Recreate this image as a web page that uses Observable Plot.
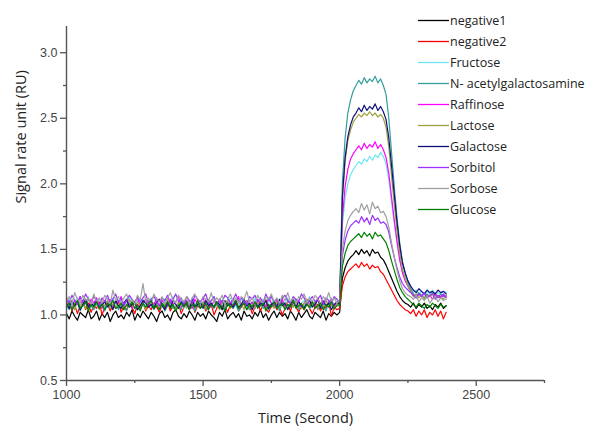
<!DOCTYPE html>
<html>
<head>
<meta charset="utf-8">
<script src="https://cdn.jsdelivr.net/npm/d3@7"></script>
<script src="https://cdn.jsdelivr.net/npm/@observablehq/plot@0.6"></script>
<style>
  html, body { margin: 0; padding: 0; background: #fff; }
  #wrap { position: relative; width: 593px; height: 432px; }
  #legend { position: absolute; left: 418px; top: 10px; font-family: "Open Sans", sans-serif; font-size: 12.5px; color: #222; }
  .row { height: 21px; display: flex; align-items: center; }
  .sw { display: block; width: 31px; height: 21px; margin-right: 1px; }
</style>
</head>
<body>
<div id="wrap"><div id="legend"></div></div>
<script>
// ---- Data ----
const seriesNames = ["negative1","negative2","Fructose","N- acetylgalactosamine","Raffinose","Lactose","Galactose","Sorbitol","Sorbose","Glucose"];
const seriesColors = ["#000000","#ff0000","#6fe3f2","#339e9a","#ff00ff","#a0a040","#10107a","#9b30ff","#a0a0a0","#008000"];

const times = [1000,1010,1020,1030,1040,1050,1060,1070,1080,1090,1100,1110,1120,1130,1140,1150,1160,1170,1180,1190,
1200,1210,1220,1230,1240,1250,1260,1270,1280,1290,1300,1310,1320,1330,1340,1350,1360,1370,1380,1390,
1400,1410,1420,1430,1440,1450,1460,1470,1480,1490,1500,1510,1520,1530,1540,1550,1560,1570,1580,1590,
1600,1610,1620,1630,1640,1650,1660,1670,1680,1690,1700,1710,1720,1730,1740,1750,1760,1770,1780,1790,
1800,1810,1820,1830,1840,1850,1860,1870,1880,1890,1900,1910,1920,1930,1940,1950,1960,1970,1980,1990,
2000,2010,2020,2030,2040,2050,2060,2070,2080,2090,2100,2110,2120,2130,2140,2150,2160,2170,2180,2190,
2200,2210,2220,2230,2240,2250,2260,2270,2280,2290,2300,2310,2320,2330,2340,2350,2360,2370,2380,2390];

const negative1 = [1.01,0.97,1.03,0.99,0.96,1.02,1.00,0.98,1.04,0.97,0.99,1.03,0.96,1.01,0.98,1.02,0.95,1.00,1.03,0.98,
1.00,0.97,1.02,0.99,1.04,0.96,1.01,0.98,1.03,1.00,0.97,1.02,0.99,0.95,1.01,1.03,0.98,1.00,0.96,1.02,
1.04,0.99,0.97,1.01,0.98,1.03,1.00,0.96,1.02,0.99,1.01,0.97,1.03,1.00,0.98,0.95,1.02,0.99,1.04,0.97,
1.00,1.02,0.98,1.01,0.96,1.03,0.99,1.00,0.97,1.02,0.99,1.04,0.98,1.01,0.96,1.00,1.03,0.98,1.02,0.99,
1.01,0.97,1.03,1.00,0.96,1.02,0.98,1.01,1.04,0.99,0.97,1.02,1.00,0.98,1.03,0.96,1.01,0.99,1.02,1.00,
1.02,1.28,1.36,1.41,1.44,1.46,1.49,1.46,1.50,1.47,1.49,1.45,1.50,1.47,1.48,1.44,1.42,1.38,1.33,1.28,
1.23,1.18,1.14,1.11,1.09,1.08,1.06,1.09,1.05,1.08,1.06,1.09,1.05,1.07,1.04,1.08,1.06,1.09,1.05,1.07];

const negative2 = [1.06,1.10,1.03,1.08,1.01,1.07,1.11,1.04,1.09,1.02,1.07,1.05,1.10,1.00,1.06,1.09,1.03,1.08,1.05,1.11,
1.02,1.07,1.04,1.09,1.06,1.01,1.08,1.05,1.10,1.03,1.07,1.04,1.09,1.06,1.02,1.08,1.05,1.11,1.03,1.07,
1.05,1.09,1.01,1.06,1.08,1.04,1.10,1.02,1.07,1.05,1.09,1.03,1.06,1.08,1.00,1.05,1.10,1.04,1.07,1.02,
1.08,1.05,1.11,1.03,1.06,1.09,1.04,1.07,1.01,1.06,1.10,1.03,1.08,1.05,1.02,1.07,1.09,1.04,1.06,1.00,
1.05,1.08,1.03,1.10,1.06,1.02,1.07,1.04,1.09,1.05,1.01,1.06,1.08,1.03,1.07,1.05,1.10,0.99,1.06,1.04,
1.05,1.22,1.29,1.33,1.35,1.37,1.39,1.36,1.40,1.37,1.39,1.35,1.38,1.36,1.37,1.33,1.31,1.27,1.23,1.19,
1.15,1.11,1.08,1.06,1.04,1.03,1.01,1.04,0.99,1.03,1.00,1.04,0.98,1.02,1.00,1.04,0.99,1.03,0.97,1.02];

const fructose = [1.09,1.12,1.06,1.10,1.13,1.07,1.11,1.08,1.14,1.06,1.10,1.07,1.12,1.09,1.05,1.11,1.08,1.13,1.06,1.10,
1.12,1.07,1.09,1.14,1.08,1.05,1.11,1.09,1.12,1.06,1.10,1.13,1.07,1.09,1.11,1.06,1.12,1.08,1.10,1.14,
1.07,1.09,1.12,1.05,1.10,1.08,1.13,1.07,1.11,1.09,1.06,1.12,1.08,1.10,1.14,1.07,1.09,1.11,1.06,1.10,
1.13,1.08,1.10,1.07,1.12,1.09,1.05,1.11,1.08,1.13,1.06,1.10,1.12,1.07,1.09,1.14,1.08,1.10,1.06,1.11,
1.09,1.13,1.07,1.10,1.12,1.06,1.09,1.11,1.08,1.14,1.07,1.10,1.12,1.08,1.06,1.11,1.09,1.13,1.07,1.10,
1.10,1.68,1.89,2.00,2.07,2.11,2.14,2.17,2.15,2.19,2.17,2.21,2.18,2.22,2.20,2.24,2.21,2.15,2.03,1.86,
1.70,1.55,1.42,1.33,1.28,1.23,1.20,1.17,1.19,1.16,1.18,1.15,1.18,1.16,1.19,1.15,1.17,1.16,1.18,1.17];

const nAcetylgalactosamine = [1.07,1.04,1.10,1.06,1.09,1.03,1.08,1.11,1.05,1.07,1.04,1.09,1.06,1.10,1.03,1.08,1.05,1.07,1.11,1.04,
1.08,1.06,1.03,1.09,1.07,1.10,1.04,1.06,1.08,1.05,1.11,1.07,1.04,1.08,1.06,1.09,1.03,1.07,1.10,1.05,
1.06,1.08,1.04,1.11,1.07,1.05,1.09,1.03,1.08,1.06,1.10,1.04,1.07,1.09,1.05,1.08,1.06,1.11,1.04,1.07,
1.09,1.05,1.08,1.03,1.06,1.10,1.07,1.04,1.09,1.06,1.08,1.11,1.05,1.07,1.04,1.09,1.06,1.08,1.03,1.10,
1.07,1.05,1.09,1.06,1.11,1.04,1.08,1.06,1.10,1.05,1.07,1.09,1.04,1.08,1.06,1.03,1.10,1.07,1.05,1.08,
1.08,2.01,2.35,2.54,2.64,2.71,2.75,2.79,2.76,2.81,2.77,2.80,2.78,2.82,2.77,2.80,2.75,2.68,2.50,2.24,
1.98,1.74,1.55,1.40,1.32,1.25,1.20,1.16,1.14,1.17,1.15,1.13,1.16,1.14,1.17,1.15,1.13,1.16,1.14,1.15];

const raffinose = [1.12,1.08,1.05,1.11,1.09,1.14,1.07,1.10,1.06,1.12,1.09,1.13,1.07,1.05,1.11,1.08,1.12,1.06,1.10,1.09,
1.14,1.07,1.11,1.08,1.05,1.10,1.13,1.07,1.09,1.12,1.06,1.10,1.08,1.13,1.05,1.11,1.09,1.07,1.12,1.08,
1.10,1.14,1.06,1.09,1.11,1.07,1.05,1.12,1.08,1.10,1.13,1.07,1.09,1.06,1.11,1.08,1.12,1.05,1.10,1.09,
1.07,1.12,1.08,1.14,1.06,1.09,1.11,1.07,1.10,1.05,1.12,1.08,1.10,1.06,1.13,1.09,1.07,1.11,1.08,1.12,
1.06,1.10,1.09,1.13,1.07,1.11,1.05,1.09,1.12,1.08,1.10,1.06,1.13,1.08,1.11,1.07,1.09,1.12,1.06,1.10,
1.09,1.74,1.98,2.11,2.19,2.23,2.26,2.29,2.26,2.31,2.27,2.30,2.28,2.32,2.27,2.30,2.26,2.20,2.08,1.90,
1.72,1.56,1.42,1.32,1.26,1.22,1.18,1.15,1.13,1.16,1.14,1.17,1.13,1.15,1.12,1.16,1.14,1.13,1.15,1.14];

const lactose = [1.06,1.10,1.08,1.04,1.11,1.07,1.09,1.05,1.12,1.08,1.06,1.10,1.04,1.09,1.07,1.11,1.05,1.08,1.10,1.06,
1.09,1.04,1.07,1.12,1.08,1.05,1.10,1.07,1.09,1.04,1.11,1.08,1.06,1.10,1.05,1.09,1.07,1.12,1.06,1.08,
1.04,1.10,1.07,1.09,1.05,1.11,1.08,1.06,1.10,1.07,1.09,1.05,1.12,1.08,1.06,1.10,1.04,1.09,1.07,1.11,
1.05,1.08,1.10,1.06,1.09,1.04,1.11,1.07,1.08,1.05,1.10,1.07,1.09,1.12,1.06,1.08,1.05,1.10,1.07,1.09,
1.04,1.11,1.08,1.06,1.10,1.07,1.05,1.09,1.12,1.06,1.08,1.10,1.05,1.09,1.07,1.11,1.06,1.08,1.04,1.09,
1.08,1.88,2.17,2.33,2.41,2.47,2.50,2.53,2.51,2.54,2.52,2.55,2.52,2.54,2.51,2.53,2.50,2.43,2.28,2.06,
1.84,1.64,1.47,1.35,1.28,1.22,1.18,1.14,1.16,1.13,1.15,1.12,1.15,1.14,1.16,1.13,1.15,1.14,1.12,1.15];

const galactose = [1.09,1.05,1.11,1.07,1.10,1.04,1.08,1.12,1.06,1.09,1.07,1.11,1.05,1.08,1.10,1.06,1.09,1.04,1.11,1.07,
1.05,1.09,1.12,1.06,1.08,1.10,1.04,1.07,1.11,1.09,1.06,1.08,1.05,1.10,1.12,1.07,1.04,1.09,1.06,1.11,
1.08,1.05,1.10,1.07,1.09,1.04,1.12,1.06,1.08,1.10,1.05,1.11,1.07,1.09,1.06,1.10,1.08,1.04,1.11,1.07,
1.09,1.06,1.10,1.05,1.08,1.12,1.07,1.09,1.04,1.10,1.06,1.09,1.07,1.11,1.05,1.08,1.10,1.06,1.12,1.07,
1.09,1.04,1.08,1.11,1.06,1.10,1.07,1.05,1.09,1.11,1.06,1.08,1.12,1.05,1.10,1.07,1.09,1.04,1.08,1.10,
1.08,1.90,2.20,2.36,2.45,2.51,2.54,2.58,2.55,2.60,2.56,2.59,2.57,2.61,2.56,2.59,2.55,2.49,2.35,2.14,
1.92,1.71,1.53,1.40,1.32,1.26,1.22,1.19,1.17,1.20,1.18,1.16,1.19,1.17,1.18,1.16,1.19,1.17,1.18,1.16];

const sorbitol = [1.13,1.09,1.15,1.11,1.08,1.14,1.10,1.16,1.12,1.09,1.14,1.11,1.07,1.13,1.10,1.15,1.09,1.12,1.16,1.10,
1.13,1.08,1.11,1.15,1.12,1.09,1.14,1.10,1.13,1.16,1.09,1.12,1.14,1.10,1.07,1.13,1.11,1.15,1.09,1.12,
1.16,1.10,1.13,1.08,1.14,1.11,1.09,1.15,1.12,1.10,1.13,1.16,1.09,1.11,1.14,1.08,1.12,1.10,1.15,1.13,
1.09,1.12,1.16,1.10,1.13,1.11,1.08,1.14,1.12,1.15,1.10,1.13,1.09,1.16,1.11,1.14,1.10,1.12,1.08,1.13,
1.15,1.11,1.09,1.14,1.12,1.10,1.16,1.13,1.09,1.11,1.14,1.10,1.12,1.15,1.08,1.13,1.11,1.09,1.14,1.12,
1.10,1.45,1.57,1.64,1.68,1.70,1.72,1.70,1.75,1.71,1.74,1.69,1.76,1.72,1.74,1.70,1.71,1.69,1.63,1.53,
1.44,1.36,1.29,1.24,1.21,1.19,1.17,1.15,1.13,1.16,1.14,1.17,1.13,1.15,1.16,1.12,1.15,1.14,1.16,1.13];

const sorbose = [1.10,1.14,1.08,1.17,1.12,1.09,1.15,1.11,1.13,1.08,1.16,1.10,1.13,1.09,1.15,1.12,1.08,1.19,1.11,1.14,
1.09,1.13,1.16,1.10,1.12,1.08,1.15,1.11,1.24,1.10,1.13,1.09,1.16,1.12,1.10,1.14,1.08,1.13,1.17,1.11,
1.09,1.15,1.12,1.10,1.14,1.08,1.13,1.16,1.11,1.09,1.14,1.12,1.10,1.17,1.09,1.13,1.11,1.15,1.08,1.12,
1.16,1.10,1.13,1.09,1.14,1.12,1.18,1.10,1.13,1.08,1.15,1.11,1.09,1.14,1.12,1.16,1.10,1.13,1.09,1.15,
1.11,1.17,1.10,1.13,1.08,1.14,1.12,1.16,1.09,1.13,1.10,1.15,1.12,1.08,1.14,1.11,1.17,1.10,1.13,1.09,
1.11,1.50,1.64,1.72,1.76,1.79,1.81,1.78,1.85,1.80,1.84,1.77,1.86,1.81,1.83,1.78,1.79,1.75,1.67,1.55,
1.44,1.34,1.26,1.20,1.17,1.15,1.14,1.12,1.15,1.10,1.13,1.11,1.14,1.09,1.12,1.14,1.10,1.13,1.11,1.12];

const glucose = [1.06,1.09,1.04,1.08,1.11,1.05,1.07,1.10,1.03,1.08,1.06,1.10,1.05,1.08,1.04,1.09,1.07,1.11,1.05,1.06,
1.09,1.04,1.08,1.06,1.10,1.05,1.07,1.03,1.09,1.06,1.08,1.11,1.05,1.07,1.04,1.09,1.06,1.10,1.05,1.08,
1.03,1.07,1.09,1.06,1.10,1.04,1.08,1.06,1.11,1.05,1.07,1.09,1.04,1.08,1.06,1.10,1.05,1.07,1.03,1.09,
1.06,1.08,1.11,1.05,1.07,1.09,1.04,1.08,1.06,1.10,1.05,1.07,1.09,1.03,1.08,1.06,1.10,1.05,1.07,1.09,
1.04,1.08,1.06,1.11,1.05,1.07,1.09,1.04,1.08,1.06,1.10,1.05,1.07,1.09,1.04,1.08,1.06,1.10,1.05,1.07,
1.07,1.37,1.47,1.53,1.56,1.58,1.60,1.62,1.59,1.63,1.60,1.62,1.58,1.63,1.60,1.61,1.58,1.55,1.49,1.41,
1.34,1.27,1.21,1.17,1.14,1.12,1.10,1.08,1.06,1.09,1.07,1.05,1.08,1.06,1.09,1.07,1.05,1.08,1.06,1.07];

const xDomain = [1000, 2750];
const yDomain = [0.5, 3.2];
const xMajorTicks = [1000, 1500, 2000, 2500];
const xMinorTicks = [1250, 1750, 2250, 2750];
const yMajorTicks = [0.5, 1.0, 1.5, 2.0, 2.5, 3.0];
const yMinorTicks = [0.75, 1.25, 1.75, 2.25, 2.75];
const xTitle = "Time (Second)";
const yTitle = "Signal rate unit (RU)";

// ---- Build long table ----
const seriesValues = [negative1, negative2, fructose, nAcetylgalactosamine, raffinose, lactose, galactose, sorbitol, sorbose, glucose];
const rows = [];
seriesNames.forEach((name, k) => {
  seriesValues[k].forEach((v, i) => rows.push({ name, t: times[i], v }));
});

const titleFont = "'Open Sans', sans-serif";
const axisColor = "#555";

const chart = Plot.plot({
  width: 593,
  height: 432,
  marginLeft: 66,
  marginRight: 49,
  marginTop: 26,
  marginBottom: 52,
  style: { fontFamily: "'Liberation Sans', Arial, sans-serif", fontSize: "12.5px", color: "#444", background: "#fff" },
  x: { domain: xDomain, label: null },
  y: { domain: yDomain, label: null },
  color: { domain: seriesNames, range: seriesColors },
  marks: [
    Plot.line(rows, { x: "t", y: "v", z: "name", stroke: "name", strokeWidth: 1.2 }),
    Plot.ruleX([xDomain[0]], { stroke: axisColor, strokeWidth: 1.4 }),
    Plot.ruleY([yDomain[0]], { stroke: axisColor, strokeWidth: 1.4 }),
    Plot.axisX({ ticks: xMajorTicks, tickSize: 6, tickPadding: 4, tickFormat: "d", stroke: axisColor, strokeWidth: 1.3, label: null }),
    Plot.axisX({ ticks: xMinorTicks, tickSize: 3, tickFormat: () => "", stroke: axisColor, strokeWidth: 1.3, label: null }),
    Plot.axisY({ ticks: yMajorTicks, tickSize: 6, tickPadding: 3, tickFormat: ".1f", stroke: axisColor, strokeWidth: 1.3, label: null }),
    Plot.axisY({ ticks: yMinorTicks, tickSize: 3, tickFormat: () => "", stroke: axisColor, strokeWidth: 1.3, label: null }),
    Plot.text([xTitle], { frameAnchor: "bottom", dy: 42, text: d => d, fontFamily: titleFont, fontSize: 14.5, fill: "#222" }),
    Plot.text([yTitle], { frameAnchor: "left", dx: -45, rotate: -90, text: d => d, fontFamily: titleFont, fontSize: 14.5, fill: "#222" })
  ]
});

const wrap = document.getElementById("wrap");
wrap.insertBefore(chart, wrap.firstChild);

const legend = document.getElementById("legend");
const ns = "http://www.w3.org/2000/svg";
seriesNames.forEach((name, k) => {
  const row = document.createElement("div");
  row.className = "row";
  const sw = document.createElementNS(ns, "svg");
  sw.setAttribute("class", "sw");
  sw.setAttribute("width", "31");
  sw.setAttribute("height", "21");
  const ln = document.createElementNS(ns, "line");
  ln.setAttribute("x1", "0"); ln.setAttribute("x2", "31");
  ln.setAttribute("y1", "10.5"); ln.setAttribute("y2", "10.5");
  ln.setAttribute("stroke", seriesColors[k]);
  ln.setAttribute("stroke-width", "1.3");
  sw.appendChild(ln);
  const lab = document.createElement("span");
  lab.textContent = name;
  row.appendChild(sw);
  row.appendChild(lab);
  legend.appendChild(row);
});
</script>
</body>
</html>
